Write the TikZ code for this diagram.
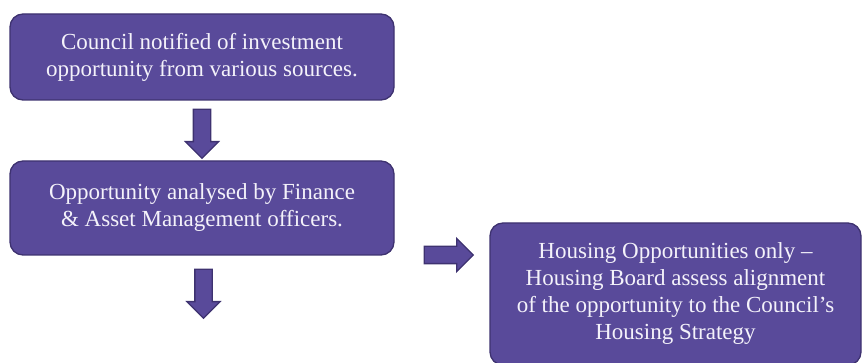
\documentclass[tikz,border=0pt]{standalone}
\usepackage{fontspec}
\setmainfont{Liberation Serif}
\usetikzlibrary{shapes.arrows,positioning}

\definecolor{boxfill}{HTML}{594A9A}
\definecolor{boxline}{HTML}{3E3270}
\definecolor{boxtext}{HTML}{F4F2FA}

\begin{document}
\begin{tikzpicture}[
    x=1pt, y=-1pt,
    block/.style={rectangle, draw=boxline, fill=boxfill, line width=1.3pt,
                  rounded corners=13pt, text=boxtext, align=center, inner sep=0pt,
                  font=\fontsize{23}{27}\selectfont},
    blockarrow/.style={single arrow, draw=boxline, fill=boxfill, line width=1.3pt,
                  inner xsep=0pt, inner ysep=8pt, minimum height=49pt,
                  single arrow head extend=8pt, anchor=tail}
  ]
  \clip (0,0) rectangle (862,363);

  % ---- Main column ----
  \node[block, minimum width=384pt, minimum height=86pt] (notify) at (202,57)
    {Council notified of investment\\opportunity from various sources.};
  \node[block, minimum width=384pt, minimum height=94pt] (analyse) at (202,208)
    {Opportunity analysed by Finance\\\& Asset Management officers.};

  % ---- Housing branch ----
  \node[block, minimum width=371pt, minimum height=142pt] (housing) at (675.5,294)
    {Housing Opportunities only --\\Housing Board assess alignment\\of the opportunity to the Council’s\\Housing Strategy};

  % ---- Arrows ----
  \node[blockarrow, rotate=-90] (down1) at ([yshift=-8pt]notify.south) {};
  \node[blockarrow, rotate=-90] (down2) at ([xshift=1.5pt, yshift=-13pt]analyse.south) {};
  \node[blockarrow] (right1) at ([xshift=29pt, yshift=-47pt]analyse.east) {};
\end{tikzpicture}
\end{document}
